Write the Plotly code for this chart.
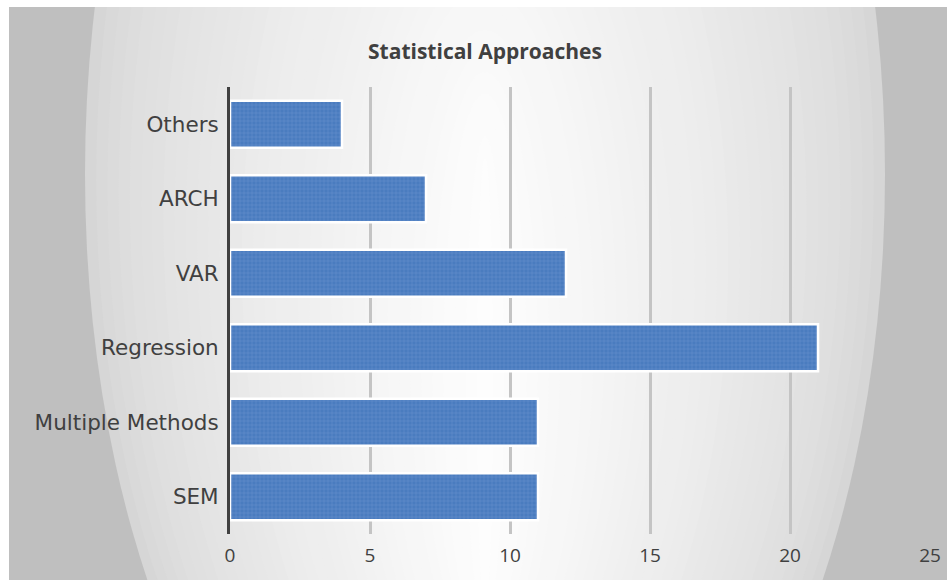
import plotly.graph_objects as go

categories = ["SEM", "Multiple Methods", "Regression", "VAR", "ARCH", "Others"]
values = [11, 11, 21, 12, 7, 4]
x_ticks = [0, 5, 10, 15, 20, 25]
title_text = "Statistical Approaches"

W, H = 948, 580
L, R, T, B = 230, 930, 87, 534  # plot area in pixels


def px(x):
    return (x - L) / (R - L)


def py(y):
    return (B - y) / (B - T)


shapes = []
# grey chart background inside a thin white border
shapes.append(dict(type="rect", xref="paper", yref="paper", layer="below",
                   x0=px(9), x1=px(947), y0=py(580), y1=py(7),
                   fillcolor="#bfbfbf", line=dict(width=0)))
# approximated radial gradient (nested ellipses)
N = 36
c0, c1 = 0xd6, 0xfd
for i in range(N):
    t = i / (N - 1)
    cx = 485
    cy = 174 + 210 * t
    a = 392 * (1 - t) + 8
    b = 757 * (1 - 0.7 * t)
    c = int(round(c0 + (c1 - c0) * t ** 0.7))
    col = "#%02x%02x%02x" % (c, c, c)
    shapes.append(dict(type="circle", xref="paper", yref="paper", layer="below",
                       x0=px(cx - a), x1=px(cx + a), y0=py(cy + b), y1=py(cy - b),
                       fillcolor=col, line=dict(width=0)))
# white border strips covering ellipse overflow
shapes.append(dict(type="rect", xref="paper", yref="paper", layer="below",
                   x0=px(0), x1=px(9), y0=py(580), y1=py(0),
                   fillcolor="#ffffff", line=dict(width=0)))
shapes.append(dict(type="rect", xref="paper", yref="paper", layer="below",
                   x0=px(0), x1=px(948), y0=py(7), y1=py(-800),
                   fillcolor="#ffffff", line=dict(width=0)))

fig = go.Figure()
fig.add_trace(go.Bar(
    y=categories, x=values, orientation="h",
    marker=dict(color="#4a7cbf", line=dict(color="#ffffff", width=2.5),
                pattern=dict(shape="+", fgcolor="#7da2d4", size=4, solidity=0.25,
                             fillmode="overlay")),
    width=0.63, hoverinfo="skip",
))

fig.update_layout(
    width=W, height=H,
    margin=dict(l=L, r=W - R, t=T, b=H - B, pad=0, autoexpand=False),
    paper_bgcolor="#ffffff",
    plot_bgcolor="rgba(0,0,0,0)",
    showlegend=False,
    shapes=shapes,
    title=dict(text="<b>" + title_text + "</b>", x=(485 - L) / (R - L), xref="paper",
               xanchor="center", y=1 - 52 / H, yanchor="middle",
               font=dict(family="Open Sans", size=21, color="#404040")),
    xaxis=dict(range=[0, 25], tickvals=x_ticks, showgrid=True, gridcolor="#c4c4c4",
               gridwidth=3, zeroline=False, showline=False, automargin=False,
               tickfont=dict(family="Open Sans", size=19, color="#404040"),
               ticks="", ticklabelstandoff=8),
    yaxis=dict(categoryorder="array", categoryarray=categories, showgrid=False,
               zeroline=False, showline=True, linecolor="#404040", linewidth=3,
               automargin=False,
               tickfont=dict(family="DejaVu Sans", size=21.5, color="#404040"),
               ticks="", ticklabelstandoff=4),
)

fig.write_html("out.html")
